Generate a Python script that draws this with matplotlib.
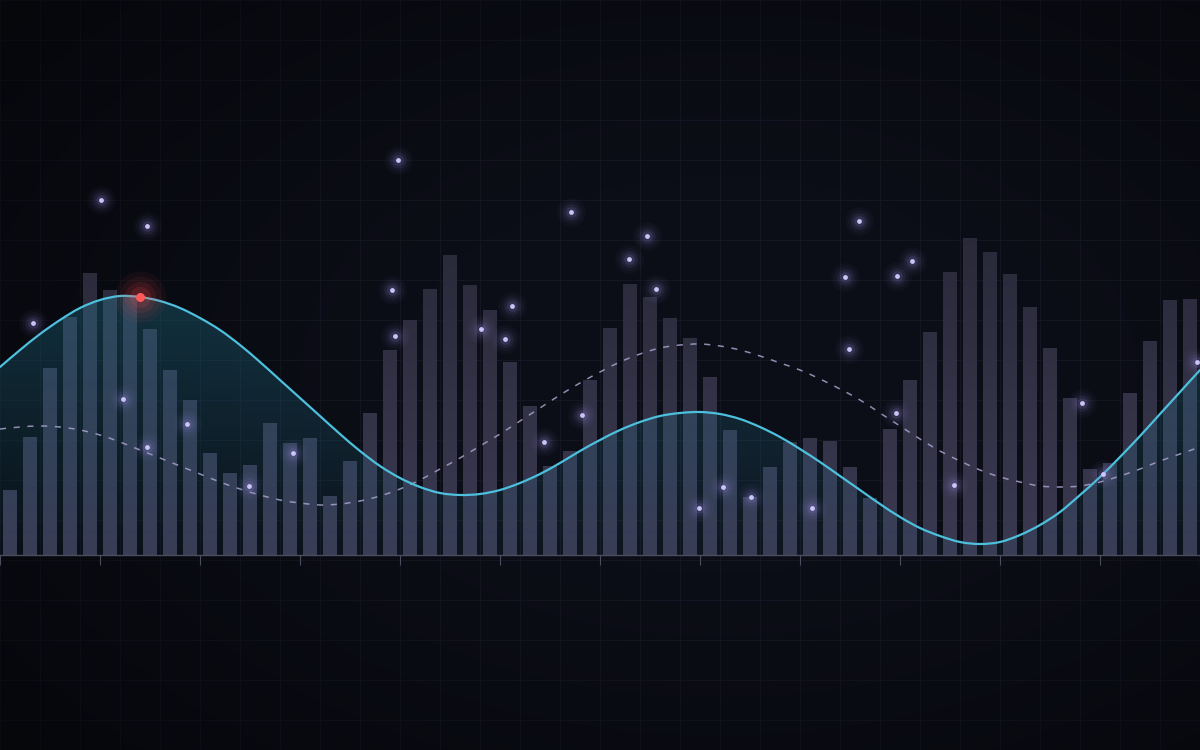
import numpy as np
import matplotlib
matplotlib.use("Agg")
import matplotlib.pyplot as plt
from matplotlib.colors import LinearSegmentedColormap
from matplotlib.path import Path
from matplotlib.patches import PathPatch

# ---------------- data ----------------
bar_values = [65, 118, 187, 238, 282, 265, 258, 226, 185, 155,
              102, 82, 90, 132, 112, 117, 59, 94, 142, 205,
              235, 266, 300, 270, 245, 193, 149, 89, 104, 175,
              227, 271, 258, 237, 217, 178, 125, 58, 88, 113,
              117, 114, 88, 57, 126, 175, 223, 283, 317, 303,
              281, 248, 207, 157, 86, 92, 162, 214, 255, 256]

# smooth series sampled at slot boundaries (-0.5 ... 59.5)
line_values = [188, 205, 221, 235, 247, 255, 259, 258, 254, 247,
               237, 225, 210, 193, 175, 157, 139, 121, 104, 89,
               77, 68, 62, 60, 61, 65, 72, 81, 92, 104,
               115, 125, 133, 139, 142, 143, 141, 136, 128, 118,
               106, 93, 79, 65, 51, 38, 27, 19, 13, 11,
               13, 20, 30, 43, 60, 78, 98, 119, 141, 163, 185]

trend_values = [126, 128, 129, 128, 125, 120, 113, 105, 97, 89,
                81, 73, 66, 60, 55, 52, 50, 51, 54, 59,
                66, 75, 86, 97, 109, 121, 134, 147, 160, 172,
                183, 193, 201, 207, 210, 211, 209, 205, 199, 192,
                185, 176, 166, 155, 142, 129, 116, 104, 94, 85,
                78, 73, 69, 68, 69, 73, 79, 86, 94, 101, 108]

scatter_x = [4.55, 6.84, 1.14, 19.4, 5.64, 8.87, 6.87, 11.95, 14.17, 19.12,
             19.27, 23.55, 25.09, 24.75, 28.05, 30.97, 31.87, 32.32, 26.72, 28.6,
             34.47, 35.65, 37.05, 40.12, 42.45, 41.77, 44.34, 45.09, 41.97, 44.3,
             47.22, 53.62, 59.34, 54.64]
scatter_y = [355, 329, 232, 395, 156, 131, 108, 69, 102, 265,
             219, 226, 249, 216, 343, 296, 319, 266, 113, 140,
             47, 68, 58, 47, 334, 278, 279, 294, 206, 142,
             70, 152, 193, 81]

highlight_index = 7

# ---------------- style ----------------
BG = "#0c0e17"
GRID = "#141722"
AXIS = "#4a4d5e"
LINE = "#4cc0dc"
DASH = "#a9a2cc"

n = len(bar_values)
bar_x = np.arange(n)
line_x = np.arange(len(line_values)) - 0.5


def smooth_path(xs, ys, close_to=None):
    """Catmull-Rom curve through the given points, drawn as cubic Bezier segments."""
    xs = np.asarray(xs, float)
    ys = np.asarray(ys, float)
    pts = np.column_stack([xs, ys])
    ext = np.vstack([2 * pts[0] - pts[1], pts, 2 * pts[-1] - pts[-2]])
    verts = [pts[0]]
    codes = [Path.MOVETO]
    for i in range(len(pts) - 1):
        p0, p1, p2, p3 = ext[i], ext[i + 1], ext[i + 2], ext[i + 3]
        c1 = p1 + (p2 - p0) / 6.0
        c2 = p2 - (p3 - p1) / 6.0
        verts += [c1, c2, p2]
        codes += [Path.CURVE4] * 3
    if close_to is not None:
        verts += [(xs[-1], close_to), (xs[0], close_to), pts[0]]
        codes += [Path.LINETO, Path.LINETO, Path.CLOSEPOLY]
    return Path(np.array(verts), codes)


fig = plt.figure(figsize=(12, 7.5), dpi=100, facecolor=BG)
ax = fig.add_axes([0, 0, 1, 1])
ax.set_facecolor(BG)
ax.set_xlim(-0.5, n - 0.5)
ax.set_ylim(-195, 555)

# grid
for gx in np.arange(-0.5, n, 2):
    ax.axvline(gx, color=GRID, lw=0.8, zorder=0.3)
for gy in np.arange(555, -200, -40):
    ax.axhline(gy, color=GRID, lw=0.8, zorder=0.3)

# vignette
yy, xx = np.mgrid[0:1:300j, 0:1:480j]
r = np.sqrt(((xx - 0.6) / 0.75) ** 2 + ((yy - 0.5) / 0.75) ** 2)
vig = np.zeros((300, 480, 4))
vig[..., 3] = np.clip((r - 0.35) * 0.75, 0, 0.5)
ax.imshow(vig, extent=(-0.5, n - 0.5, -195, 555), origin="upper",
          aspect="auto", zorder=0.5, interpolation="bilinear")

# bars with vertical gradient
bars = ax.bar(bar_x, bar_values, width=0.7, color="none", edgecolor="none", zorder=2)
paths = [b.get_path().transformed(b.get_patch_transform()) for b in bars]
compound = Path.make_compound_path(*paths)
clip_patch = PathPatch(compound, transform=ax.transData, facecolor="none", edgecolor="none")
ax.add_patch(clip_patch)
bar_cmap = LinearSegmentedColormap.from_list("bars", ["#3a3951", "#2a2939"])
grad = np.linspace(0, 1, 256).reshape(-1, 1)
im = ax.imshow(grad, extent=(-0.5, n - 0.5, 0, 330), origin="lower", cmap=bar_cmap,
               aspect="auto", zorder=2, interpolation="bilinear")
im.set_clip_path(clip_patch)

# fill under the main line (teal gradient)
fill_patch = PathPatch(smooth_path(line_x, line_values, close_to=0), transform=ax.transData,
                       facecolor="none", edgecolor="none")
ax.add_patch(fill_patch)
fill_rgba = np.zeros((256, 1, 4))
fill_rgba[..., 0] = 0.17
fill_rgba[..., 1] = 0.62
fill_rgba[..., 2] = 0.75
fill_rgba[..., 3] = np.linspace(0.05, 0.26, 256).reshape(-1, 1)
fim = ax.imshow(fill_rgba, extent=(-0.5, n - 0.5, 0, 260), origin="lower",
                aspect="auto", zorder=3, interpolation="bilinear")
fim.set_clip_path(fill_patch)

# lines
trend = PathPatch(smooth_path(line_x, trend_values), facecolor="none", edgecolor=DASH,
                  lw=1.1, alpha=0.85, zorder=4)
trend.set_linestyle((0, (4, 5)))
ax.add_patch(trend)
main = PathPatch(smooth_path(line_x, line_values), facecolor="none", edgecolor=LINE,
                 lw=1.6, zorder=5, capstyle="round", joinstyle="round")
ax.add_patch(main)

# glowing dots
for s, a in [(420, 0.035), (260, 0.06), (140, 0.1), (60, 0.16)]:
    ax.scatter(scatter_x, scatter_y, s=s, color="#8f84d6", alpha=a, lw=0, zorder=6)
ax.scatter(scatter_x, scatter_y, s=12, color="#d4ccff", alpha=0.95, lw=0, zorder=6)

# highlighted peak
hx, hy = line_x[highlight_index], line_values[highlight_index]
for s, a in [(1400, 0.05), (900, 0.07), (500, 0.1), (230, 0.14)]:
    ax.scatter([hx], [hy], s=s, color="#ff4d4d", alpha=a, lw=0, zorder=7)
ax.scatter([hx], [hy], s=42, color="#ff5a5a", lw=0, zorder=7)

# axis with ticks
for side in ["top", "left", "right"]:
    ax.spines[side].set_visible(False)
ax.spines["bottom"].set_position(("data", 0))
ax.spines["bottom"].set_color(AXIS)
ax.spines["bottom"].set_linewidth(1.0)
ax.spines["bottom"].set_zorder(8)
ax.set_xticks(np.arange(-0.5, n, 5))
ax.set_xticklabels([])
ax.tick_params(axis="x", direction="out", length=7, width=0.8, color=AXIS)
ax.set_yticks([])

fig.savefig("out.png", dpi=100, facecolor=BG)
